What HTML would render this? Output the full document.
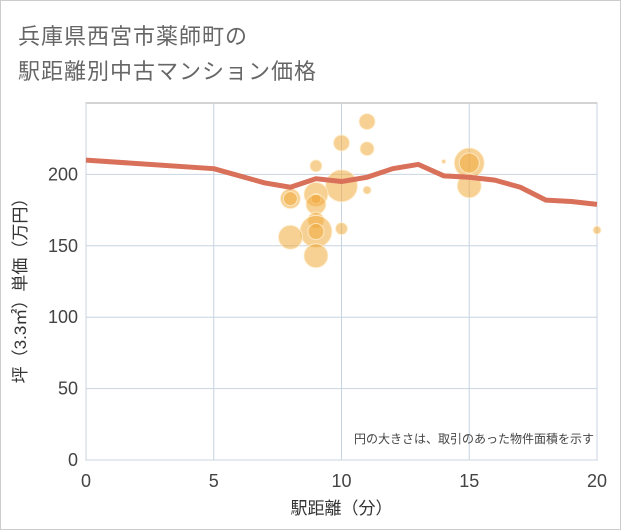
<!DOCTYPE html>
<html><head><meta charset="utf-8"><style>
body{margin:0;background:#fff;font-family:"Liberation Sans","Noto Sans CJK JP",sans-serif}
#wrap{position:relative;width:619px;height:528px;border:1px solid #ccc;background:#fff}
.t{position:absolute;left:17px;font-size:22px;color:#666;letter-spacing:1px}
</style></head><body>
<div id="wrap">
<div class="t" style="top:18px">兵庫県西宮市薬師町の</div>
<div class="t" style="top:53px">駅距離別中古マンション価格</div>
<svg id="c" width="621" height="530" style="position:absolute;left:-1px;top:-1px"></svg>
</div>
<script>
const xTicks=[0,5,10,15,20];
const yTicks=[0,50,100,150,200];
const lineX=[0,5,7,8,9,10,11,12,13,14,15,16,17,18,19,20];
const lineY=[210,204,194,191,197,195,198,204,207,199,198,196,191,182,181,179];
const bx=[11,11,10,9,10,11,8,8,9,9,9,9,9,9,8,9,10,14,15,15,15,20];
const by=[237,218,222,206,192,189,183,183,186,183,179,168,160,160,156,143,162,209,208,208,192,161];
const br=[8,7,8,6,16,4,10,7,12,5,10,8,16,8,12,12,6,2,15,10,12,4];
const L=86,R=597,T=103,B=460;
const sx=v=>L+(v/20)*(R-L), sy=v=>B-(v/250)*(B-T);
const s=document.getElementById('c'),ns='http://www.w3.org/2000/svg';
function mk(t,a,p){const e=document.createElementNS(ns,t);for(const k in a)e.setAttribute(k,a[k]);(p||s).appendChild(e);return e;}
let e=mk('rect',{x:L,y:T,width:R-L,height:B-T,fill:'#fff',stroke:'#aaa','stroke-width':1});


xTicks.forEach(v=>{let g=mk('line',{x1:sx(v),x2:sx(v),y1:T,y2:B,stroke:'#c8d4e0'});


let t=mk('text',{x:sx(v),y:487,'text-anchor':'middle','font-size':18,fill:'#444'});t.textContent=v;

});
yTicks.forEach(v=>{let g=mk('line',{x1:L,x2:R,y1:sy(v),y2:sy(v),stroke:'#c8d4e0'});


let t=mk('text',{x:78,y:sy(v)+6,'text-anchor':'end','font-size':18,fill:'#444'});t.textContent=v;

});
bx.forEach((v,i)=>{let c=mk('circle',{cx:sx(v),cy:sy(by[i]),r:br[i],fill:'rgba(240,170,60,0.55)',stroke:'rgba(255,240,210,0.8)','stroke-width':1});

});
let p=mk('polyline',{points:lineX.map((v,i)=>sx(v)+','+sy(lineY[i])).join(' '),fill:'none',stroke:'#d9705a','stroke-width':5,'stroke-linejoin':'round'});


let n=mk('text',{x:594,y:443,'text-anchor':'end','font-size':12,fill:'#444'});n.textContent='円の大きさは、取引のあった物件面積を示す';


let xt=mk('text',{x:sx(10),y:514,'text-anchor':'middle','font-size':17,fill:'#333'});xt.textContent='駅距離（分）';


let yt=mk('text',{x:0,y:0,'text-anchor':'middle','font-size':17,fill:'#333',transform:'translate(26,'+((T+B)/2+5)+') rotate(-90)'});yt.textContent='坪（3.3㎡）単価（万円）';


</script>
</body></html>
